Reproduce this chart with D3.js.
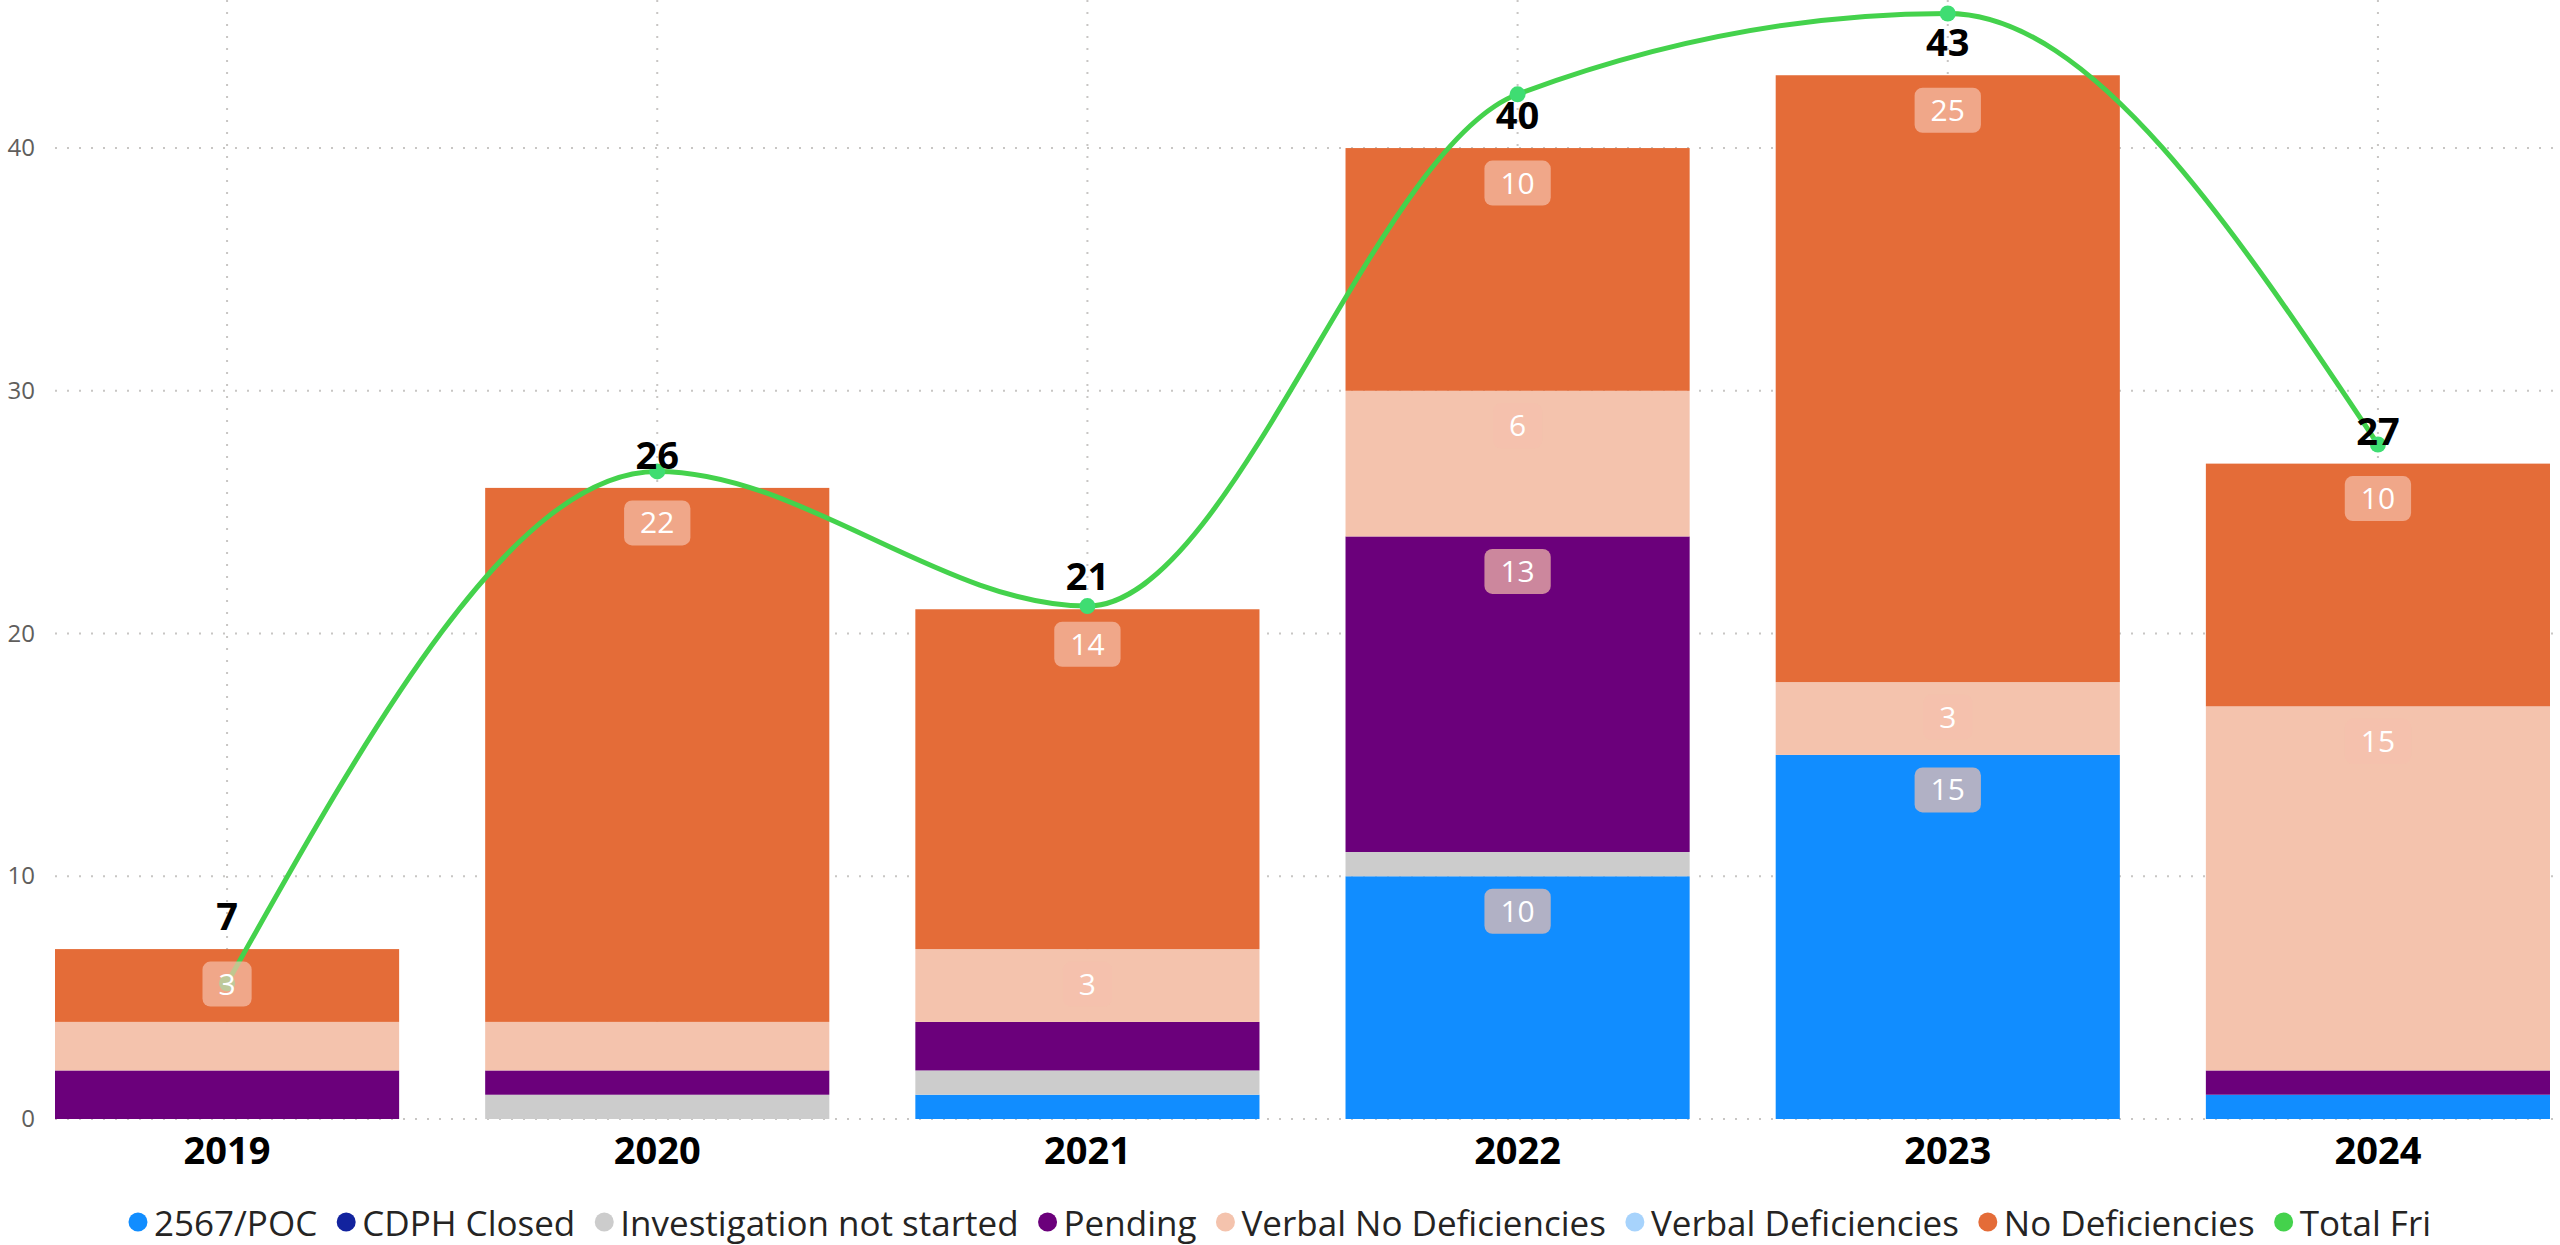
<!DOCTYPE html>
<html>
<head>
<meta charset="utf-8">
<script src="https://cdn.jsdelivr.net/npm/d3@7"></script>
<style>
  body { margin: 0; background: #fff; }
  text { font-family: 'Segoe UI', 'Open Sans', sans-serif; }
</style>
</head>
<body>
<div id="wrapper"></div>
<script>
// data
const years = ['2019', '2020', '2021', '2022', '2023', '2024']
const poc = [0, 0, 1, 10, 15, 1]
const cdphClosed = [0, 0, 0, 0, 0, 0]
const notStarted = [0, 1, 1, 1, 0, 0]
const pending = [2, 1, 2, 13, 0, 1]
const verbalNoDef = [2, 2, 3, 6, 3, 15]
const verbalDef = [0, 0, 0, 0, 0, 0]
const noDef = [3, 22, 14, 10, 25, 10]
const totalFri = [7, 26, 21, 40, 43, 27]
const yTicks = [0, 10, 20, 30, 40]

const seriesNames = ['2567/POC', 'CDPH Closed', 'Investigation not started', 'Pending',
  'Verbal No Deficiencies', 'Verbal Deficiencies', 'No Deficiencies']
const seriesValues = [poc, cdphClosed, notStarted, pending, verbalNoDef, verbalDef, noDef]
const colors = ['#118DFF', '#12239E', '#CCCCCC', '#6B007B', '#F4C3AD', '#A7D3FC', '#E46C38']
const lineName = 'Total Fri'
const lineColor = '#44D24C'

function drawChart() {
  const dataset = years.map((y, i) => {
    const row = { year: y, total: totalFri[i] }
    seriesNames.forEach((s, j) => row[s] = seriesValues[j][i])
    return row
  })

  //dimensions
  let dimensions = {
    width: 2560,
    height: 1245,
    margin: { top: 0, right: 10, bottom: 126, left: 55 }
  }
  dimensions.boundedWidth = dimensions.width - dimensions.margin.left - dimensions.margin.right
  dimensions.boundedHeight = dimensions.height - dimensions.margin.top - dimensions.margin.bottom

  const wrapper = d3.select('#wrapper')
    .append('svg')
      .attr('width', dimensions.width)
      .attr('height', dimensions.height)

  const bounds = wrapper.append('g')
    .attr('transform', `translate(${dimensions.margin.left}, ${dimensions.margin.top})`)

  //scales
  const xScale = d3.scaleBand()
    .domain(years)
    .range([0, dimensions.boundedWidth])
    .paddingInner(0.2)
    .paddingOuter(0)

  const yScale = d3.scaleLinear()
    .domain([0, 46.1])
    .range([dimensions.boundedHeight, 0])

  // line sits on its own hidden axis
  const y2Scale = d3.scaleLinear()
    .domain([1.96, 43.5])
    .range([dimensions.boundedHeight, 0])

  const stacked = d3.stack().keys(seriesNames)(dataset)

  //grid
  const grid = bounds.append('g')
  grid.selectAll('.hgrid')
    .data(yTicks)
    .join('line')
      .attr('x1', 0)
      .attr('x2', dimensions.width - dimensions.margin.left)
      .attr('y1', d => yScale(d))
      .attr('y2', d => yScale(d))
      .attr('stroke', '#C8C6C4')
      .attr('stroke-width', 2)
      .attr('stroke-dasharray', '2,10')
  grid.selectAll('.vgrid')
    .data(years)
    .join('line')
      .attr('x1', d => xScale(d) + xScale.bandwidth() / 2)
      .attr('x2', d => xScale(d) + xScale.bandwidth() / 2)
      .attr('y1', 0)
      .attr('y2', dimensions.boundedHeight)
      .attr('stroke', '#C8C6C4')
      .attr('stroke-width', 2)
      .attr('stroke-dasharray', '2,10')

  //y axis labels
  const yAxisGenerator = d3.axisLeft(yScale)
    .tickValues(yTicks)
    .tickSize(0)
    .tickPadding(20)
  const yAxis = bounds.append('g').call(yAxisGenerator)
  yAxis.select('.domain').remove()
  yAxis.selectAll('text')
    .attr('fill', '#605E5C')
    .style('font-size', '24px')

  //x axis labels
  const xAxisGenerator = d3.axisBottom(xScale).tickSize(0).tickPadding(18)
  const xAxis = bounds.append('g')
    .attr('transform', `translate(0, ${dimensions.boundedHeight})`)
    .call(xAxisGenerator)
  xAxis.select('.domain').remove()
  xAxis.selectAll('text')
    .attr('fill', '#000')
    .style('font-size', '38px')
    .style('font-weight', 'bold')

  //bars
  bounds.append('g')
    .selectAll('g')
    .data(stacked)
    .join('g')
      .attr('fill', (d, i) => colors[i])
    .selectAll('rect')
    .data(d => d)
    .join('rect')
      .attr('x', d => xScale(d.data.year))
      .attr('width', xScale.bandwidth())
      .attr('y', d => yScale(d[1]))
      .attr('height', d => yScale(d[0]) - yScale(d[1]))

  //line
  const lineGenerator = d3.line()
    .x((d, i) => xScale(years[i]) + xScale.bandwidth() / 2)
    .y(d => y2Scale(d))
    .curve(d3.curveMonotoneX)

  bounds.append('path')
    .attr('d', lineGenerator(totalFri))
    .attr('fill', 'none')
    .attr('stroke', lineColor)
    .attr('stroke-width', 5)

  bounds.append('g')
    .selectAll('circle')
    .data(totalFri)
    .join('circle')
      .attr('cx', (d, i) => xScale(years[i]) + xScale.bandwidth() / 2)
      .attr('cy', d => y2Scale(d))
      .attr('r', 8)
      .attr('fill', '#3FDD72')

  //segment labels
  const segs = []
  stacked.forEach(layer => layer.forEach(d => {
    const v = d[1] - d[0]
    if (v >= 3) segs.push({ year: d.data.year, top: d[1], value: v })
  }))
  const segLabels = bounds.append('g')
    .selectAll('g')
    .data(segs)
    .join('g')
      .attr('transform', d => `translate(${xScale(d.year) + xScale.bandwidth() / 2}, ${yScale(d.top) + 35})`)
  segLabels.append('rect')
    .attr('class', 'box')
    .attr('y', -22.5)
    .attr('height', 45)
    .attr('rx', 8)
    .attr('fill', '#F5C1AD')
    .attr('fill-opacity', 0.7)
  segLabels.append('text')
    .attr('text-anchor', 'middle')
    .attr('dy', '0.35em')
    .attr('fill', '#fff')
    .style('font-size', '30px')
    .text(d => d.value)
  segLabels.each(function() {
    const g = d3.select(this)
    const w = g.select('text').node().getComputedTextLength() + 32
    g.select('.box').attr('x', -w / 2).attr('width', w)
  })

  //total labels
  bounds.append('g')
    .selectAll('text')
    .data(dataset)
    .join('text')
      .attr('x', d => xScale(d.year) + xScale.bandwidth() / 2)
      .attr('y', d => yScale(d3.sum(seriesNames, s => d[s])) - 19)
      .attr('text-anchor', 'middle')
      .attr('fill', '#000')
      .style('font-size', '38px')
      .style('font-weight', 'bold')
      .text(d => d3.sum(seriesNames, s => d[s]))

  //legend
  const legendItems = seriesNames.map((s, i) => ({ name: s, color: colors[i] }))
    .concat([{ name: lineName, color: lineColor }])
  const legend = wrapper.append('g')
    .attr('transform', `translate(0, 1222)`)
  const items = legend.selectAll('g')
    .data(legendItems)
    .join('g')
  items.append('circle')
    .attr('r', 9.5)
    .attr('fill', d => d.color)
  items.append('text')
    .attr('x', 16)
    .attr('y', 14)
    .attr('fill', '#252423')
    .style('font-size', '35px')
    .text(d => d.name)
  let offset = 0
  const positions = []
  items.each(function() {
    const w = d3.select(this).select('text').node().getComputedTextLength()
    positions.push(offset)
    offset += 16 + w + 29
  })
  const legendWidth = offset - 29 + 9
  const start = (dimensions.width - legendWidth) / 2 + 9
  items.attr('transform', (d, i) => `translate(${start + positions[i]}, 0)`)
}

drawChart()
</script>
</body>
</html>
